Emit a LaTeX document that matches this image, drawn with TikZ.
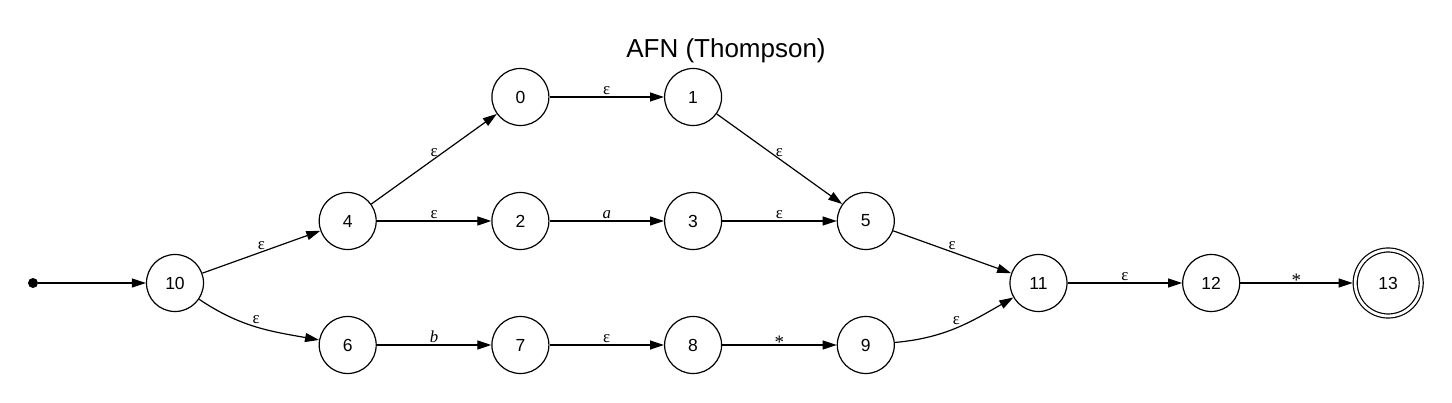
\documentclass[tikz,border=0pt]{standalone}
\usepackage{fontspec}
\setmainfont{Liberation Serif}
\newfontfamily\statefont{Liberation Sans}
\usetikzlibrary{arrows.meta}

\begin{document}
\begin{tikzpicture}[x=1pt, y=1pt, node distance=172.7pt,
  every node/.style={inner sep=0pt},
  state/.style={circle, draw, line width=1.2pt, minimum size=57pt, font=\statefont\fontsize{17.5}{20}\selectfont},
  accept/.style={state, minimum size=66pt, double, double distance=2.8pt, outer sep=2.6pt},
  lbl/.style={above, inner sep=2pt, font=\fontsize{16.8}{20}\selectfont},
  star/.style={lbl, yshift=-6pt, font=\fontsize{19}{20}\selectfont},
  tr/.style={-{Triangle[length=14pt, width=9pt]}, line width=1.2pt}]
  \useasboundingbox (0,0) rectangle (1452,-403);
  \node[font=\statefont\fontsize{26}{30}\selectfont] (title) at (726,-51) {AFN (Thompson)};
  \node[state] (n10) at (175,-283) {10};
  \node[circle, fill, minimum size=10pt, left of=n10, node distance=142pt] (start) {};
  \node[state, right of=n10, yshift=62pt] (n4) {4};
  \node[state, right of=n10, yshift=-62pt] (n6) {6};
  \node[state, right of=n4, yshift=124pt] (n0) {0};
  \node[state, right of=n4] (n2) {2};
  \node[state, right of=n0] (n1) {1};
  \node[state, right of=n2] (n3) {3};
  \node[state, right of=n3] (n5) {5};
  \node[state, right of=n6] (n7) {7};
  \node[state, right of=n7] (n8) {8};
  \node[state, right of=n8] (n9) {9};
  \node[state, right of=n5, yshift=-62pt] (n11) {11};
  \node[state, right of=n11] (n12) {12};
  \node[accept, right of=n12, node distance=177pt] (n13) {13};
  \draw[tr] (start) -- (n10);
  \draw[tr] (n10) -- node[lbl] {ε} (n4);
  \draw[tr] (n10) to[out=-34, in=170] node[lbl] {ε} (n6);
  \draw[tr] (n4) -- node[lbl] {ε} (n0);
  \draw[tr] (n4) -- node[lbl] {ε} (n2);
  \draw[tr] (n0) -- node[lbl] {ε} (n1);
  \draw[tr] (n2) -- node[lbl] {\textit{a}} (n3);
  \draw[tr] (n1) -- node[lbl] {ε} (n5);
  \draw[tr] (n3) -- node[lbl] {ε} (n5);
  \draw[tr] (n6) -- node[lbl] {\textit{b}} (n7);
  \draw[tr] (n7) -- node[lbl] {ε} (n8);
  \draw[tr] (n8) -- node[star] {*} (n9);
  \draw[tr] (n5) -- node[lbl] {ε} (n11);
  \draw[tr] (n9) to[out=5, in=210] node[lbl] {ε} (n11);
  \draw[tr] (n11) -- node[lbl] {ε} (n12);
  \draw[tr] (n12) -- node[star] {*} (n13);
\end{tikzpicture}
\end{document}
